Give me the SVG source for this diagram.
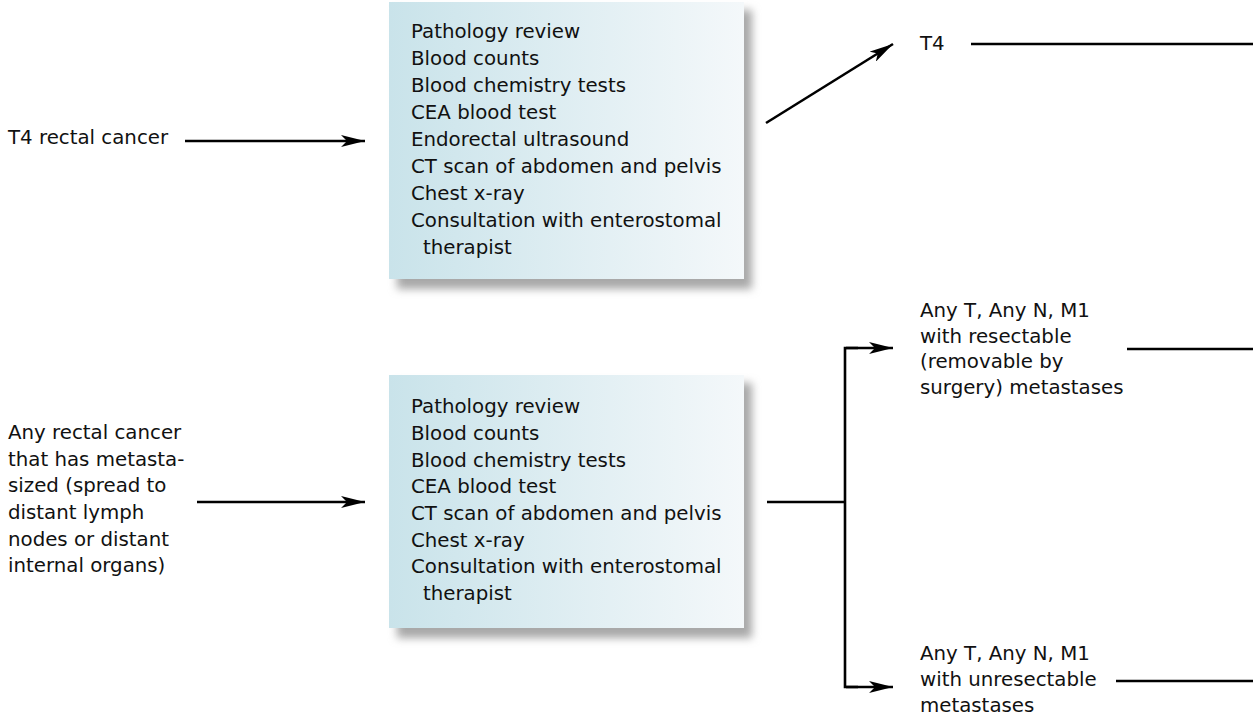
<svg xmlns="http://www.w3.org/2000/svg" width="1253" height="715" viewBox="0 0 1253 715">
  <defs>
    <linearGradient id="boxFill" x1="0" y1="0" x2="1" y2="0">
      <stop offset="0" stop-color="#c9e3ea"/>
      <stop offset="1" stop-color="#f4f8fa"/>
    </linearGradient>
    <filter id="shadowBlur" x="-10%" y="-10%" width="120%" height="120%">
      <feGaussianBlur stdDeviation="4"/>
    </filter>
    <marker id="arrowHead" viewBox="0 0 24 12" refX="24" refY="6" markerWidth="24" markerHeight="12" markerUnits="userSpaceOnUse" orient="auto">
      <path d="M0,0 L24,6 L0,12 L6,6 Z" fill="#000"/>
    </marker>
  </defs>
  <style>
    text { font-family: "DejaVu Sans", "Liberation Sans", sans-serif; font-size: 19.8px; fill: #111; }
    .box { fill: url(#boxFill); }
    .shadow { fill: #a8a8a8; filter: url(#shadowBlur); }
    .link { fill: none; stroke: #000; stroke-width: 2.6; }
    .arrow { marker-end: url(#arrowHead); }
  </style>
  <rect width="1253" height="715" fill="#fff"/>

  <!-- left inputs -->
  <g id="input-t4">
    <text x="8" y="144">T4 rectal cancer</text>
  </g>
  <g id="input-metastatic">
    <text x="8" y="439">Any rectal cancer</text>
    <text x="8" y="466">that has metasta-</text>
    <text x="8" y="492">sized (spread to</text>
    <text x="8" y="519">distant lymph</text>
    <text x="8" y="546">nodes or distant</text>
    <text x="8" y="572">internal organs)</text>
  </g>

  <!-- work-up boxes -->
  <g id="workup-t4">
    <rect class="shadow" x="397" y="10" width="355" height="279"/>
    <rect class="box" x="389" y="2" width="355" height="277"/>
    <text x="411" y="38">Pathology review</text>
    <text x="411" y="65">Blood counts</text>
    <text x="411" y="92">Blood chemistry tests</text>
    <text x="411" y="119">CEA blood test</text>
    <text x="411" y="146">Endorectal ultrasound</text>
    <text x="411" y="173">CT scan of abdomen and pelvis</text>
    <text x="411" y="200">Chest x-ray</text>
    <text x="411" y="227">Consultation with enterostomal</text>
    <text x="423" y="254">therapist</text>
  </g>
  <g id="workup-metastatic">
    <rect class="shadow" x="397" y="383" width="355" height="255"/>
    <rect class="box" x="389" y="375" width="355" height="253"/>
    <text x="411" y="413">Pathology review</text>
    <text x="411" y="440">Blood counts</text>
    <text x="411" y="467">Blood chemistry tests</text>
    <text x="411" y="493">CEA blood test</text>
    <text x="411" y="520">CT scan of abdomen and pelvis</text>
    <text x="411" y="547">Chest x-ray</text>
    <text x="411" y="573">Consultation with enterostomal</text>
    <text x="423" y="600">therapist</text>
  </g>

  <!-- outcome stages -->
  <g id="stage-t4">
    <text x="920" y="50">T4</text>
  </g>
  <g id="stage-resectable">
    <text x="920" y="317">Any T, Any N, M1</text>
    <text x="920" y="343">with resectable</text>
    <text x="920" y="368">(removable by</text>
    <text x="920" y="394">surgery) metastases</text>
  </g>
  <g id="stage-unresectable">
    <text x="920" y="660">Any T, Any N, M1</text>
    <text x="920" y="686">with unresectable</text>
    <text x="920" y="712">metastases</text>
  </g>

  <!-- connectors -->
  <g id="connectors">
    <line class="link arrow" x1="185" y1="141" x2="365" y2="141"/>
    <line class="link arrow" x1="197" y1="502" x2="365" y2="502"/>
    <line class="link arrow" x1="766" y1="123" x2="893" y2="44"/>
    <line class="link" x1="971" y1="44" x2="1253" y2="44"/>
    <line class="link" x1="767" y1="502" x2="845" y2="502"/>
    <polyline class="link" points="858,348 845,348 845,687 858,687"/>
    <line class="link arrow" x1="846" y1="348" x2="893" y2="348"/>
    <line class="link arrow" x1="846" y1="687" x2="893" y2="687"/>
    <line class="link" x1="1127" y1="349" x2="1253" y2="349"/>
    <line class="link" x1="1116" y1="681" x2="1253" y2="681"/>
  </g>
</svg>
